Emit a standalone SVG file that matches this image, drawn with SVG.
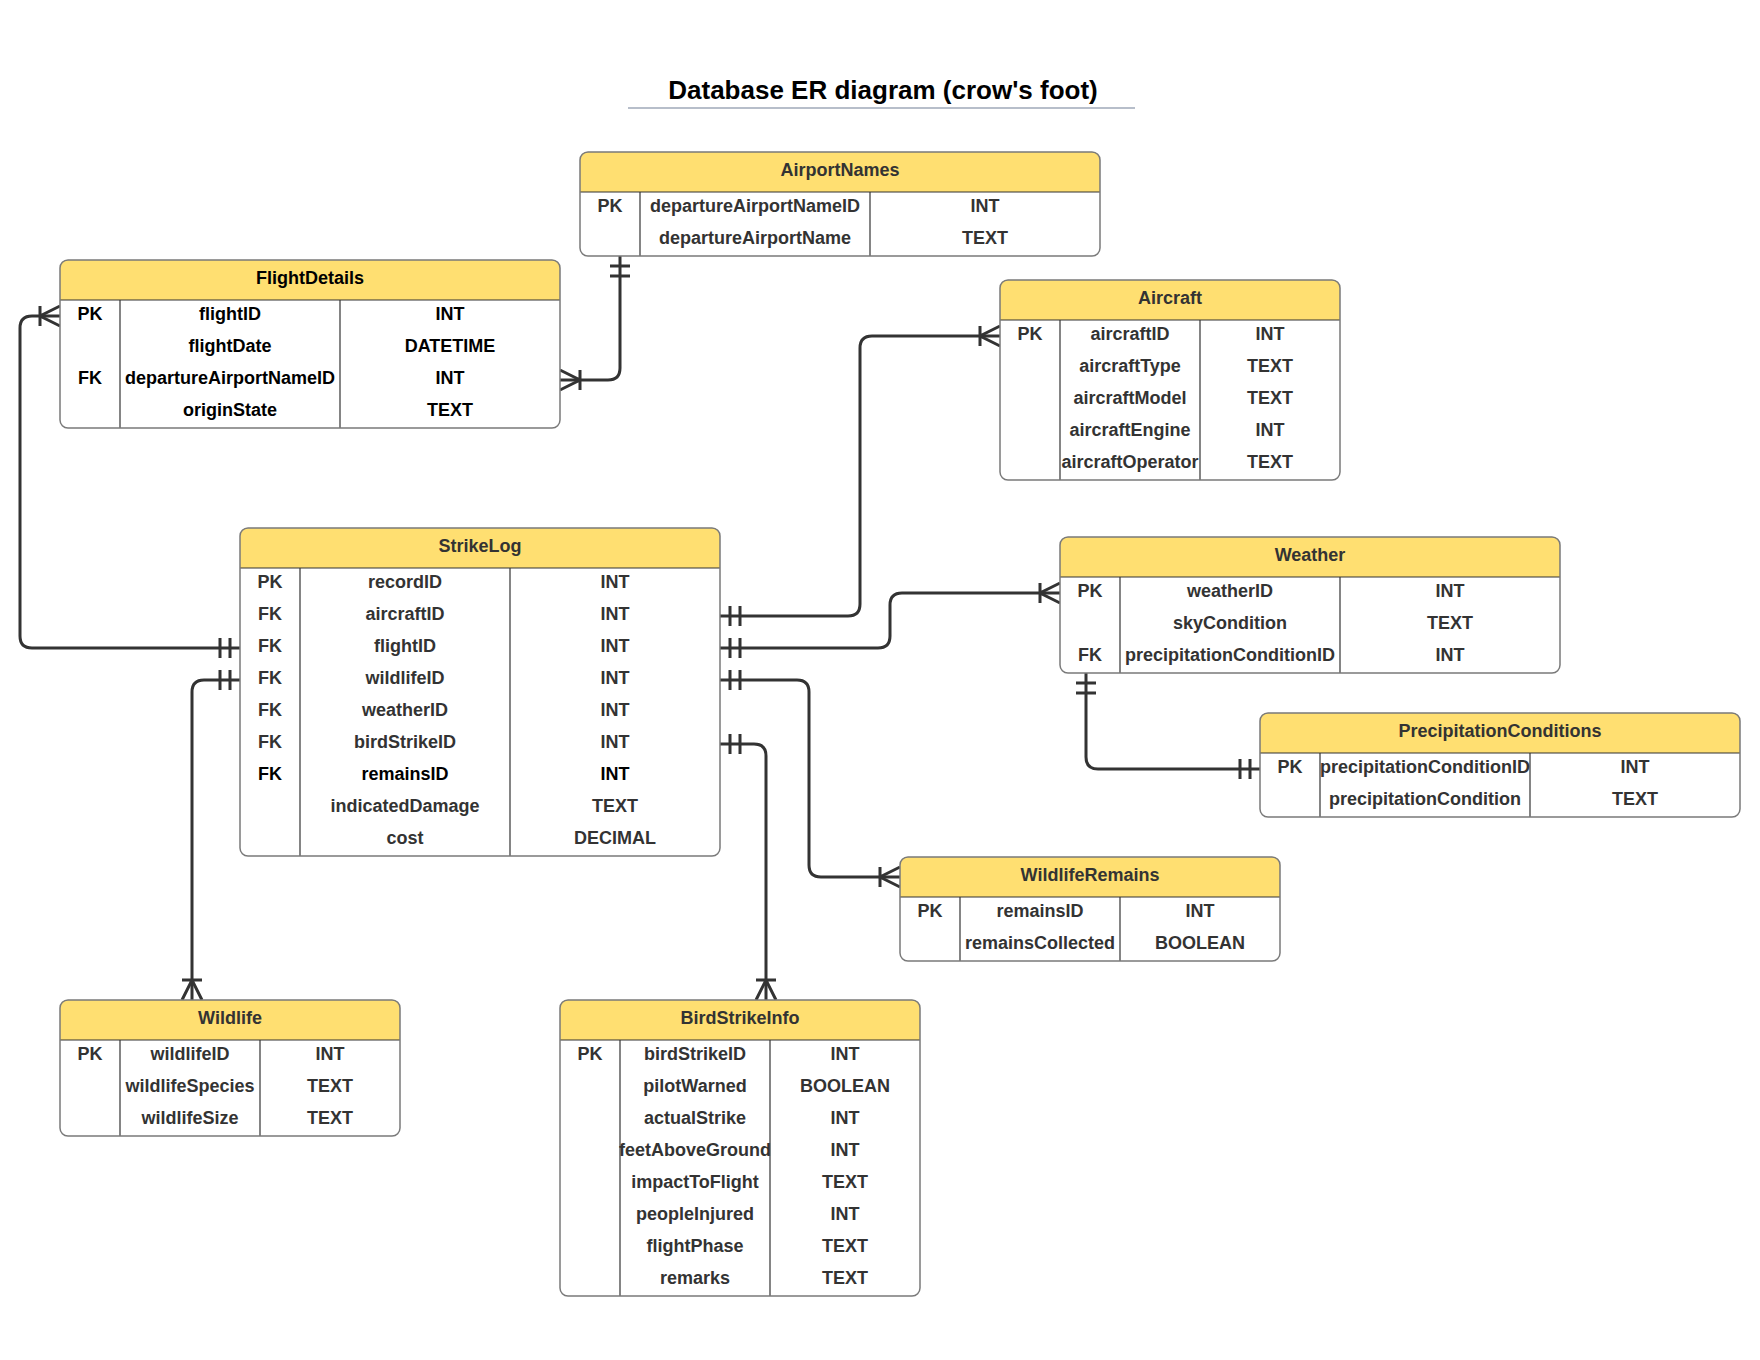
<svg xmlns="http://www.w3.org/2000/svg" width="1760" height="1360" viewBox="0 0 1760 1360">
<style>
.bg{fill:#fff}
.hd{fill:#FFDF71}
.ol{fill:none;stroke:#7a7a7a;stroke-width:1.5}
.dv{stroke:#333;stroke-width:1.2}
.t{font-family:"Liberation Sans",Arial,sans-serif;font-size:18px;font-weight:bold;fill:#333;text-anchor:middle}
.b{fill:#000}
.ttl{font-family:"Liberation Sans",Arial,sans-serif;font-size:26px;font-weight:bold;fill:#000;text-anchor:middle}
.c{fill:none;stroke:#333;stroke-width:3}
.mk{fill:none;stroke:#333;stroke-width:3}
</style>
<defs>
<marker id="many" markerUnits="userSpaceOnUse" viewBox="-30 -15 32 30" markerWidth="32" markerHeight="30" refX="0" refY="0" orient="auto-start-reverse">
<path class="mk" d="M-20,-10 V10 M0,-10 L-20,0 L0,10"/>
</marker>
<marker id="one" markerUnits="userSpaceOnUse" viewBox="-30 -15 32 30" markerWidth="32" markerHeight="30" refX="0" refY="0" orient="auto-start-reverse">
<path class="mk" d="M-10,-10 V10 M-20,-10 V10"/>
</marker>
</defs>
<rect width="1760" height="1360" fill="#fff"/>
<g id="title">
<text class="ttl" x="883" y="99">Database ER diagram (crow's foot)</text>
<line x1="628" y1="108" x2="1135" y2="108" stroke="#9fa8b8" stroke-width="1.5"/>
</g>

<g id="connectors">
<path class="c" d="M620,256 V368 Q620,380 608,380 H560" marker-start="url(#one)" marker-end="url(#many)"/>
<path class="c" d="M240,648 H32 Q20,648 20,636 V328 Q20,316 32,316 H60" marker-start="url(#one)" marker-end="url(#many)"/>
<path class="c" d="M240,680 H204 Q192,680 192,692 V1000" marker-start="url(#one)" marker-end="url(#many)"/>
<path class="c" d="M720,616 H848 Q860,616 860,604 V348 Q860,336 872,336 H1000" marker-start="url(#one)" marker-end="url(#many)"/>
<path class="c" d="M720,648 H878 Q890,648 890,636 V605 Q890,593 902,593 H1060" marker-start="url(#one)" marker-end="url(#many)"/>
<path class="c" d="M720,680 H797 Q809,680 809,692 V865 Q809,877 821,877 H900" marker-start="url(#one)" marker-end="url(#many)"/>
<path class="c" d="M720,744 H754 Q766,744 766,756 V1000" marker-start="url(#one)" marker-end="url(#many)"/>
<path class="c" d="M1086,673 V757 Q1086,769 1098,769 H1260" marker-start="url(#one)" marker-end="url(#one)"/>
</g>

<g id="AirportNames">
<rect class="bg" x="580" y="152" width="520" height="104" rx="8"/>
<path class="hd" d="M580,192 V160 Q580,152 588,152 H1092 Q1100,152 1100,160 V192 Z"/>
<line class="dv" x1="580" y1="192" x2="1100" y2="192"/>
<line class="dv" x1="640" y1="192" x2="640" y2="256"/>
<line class="dv" x1="870" y1="192" x2="870" y2="256"/>
<rect class="ol" x="580" y="152" width="520" height="104" rx="8"/>
<text class="t" x="840" y="176">AirportNames</text>
<text class="t" x="610" y="212">PK</text><text class="t" x="755" y="212">departureAirportNameID</text><text class="t" x="985" y="212">INT</text>
<text class="t" x="755" y="244">departureAirportName</text><text class="t" x="985" y="244">TEXT</text>
</g>

<g id="FlightDetails">
<rect class="bg" x="60" y="260" width="500" height="168" rx="8"/>
<path class="hd" d="M60,300 V268 Q60,260 68,260 H552 Q560,260 560,268 V300 Z"/>
<line class="dv" x1="60" y1="300" x2="560" y2="300"/>
<line class="dv" x1="120" y1="300" x2="120" y2="428"/>
<line class="dv" x1="340" y1="300" x2="340" y2="428"/>
<rect class="ol" x="60" y="260" width="500" height="168" rx="8"/>
<text class="t b" x="310" y="284">FlightDetails</text>
<text class="t b" x="90" y="320">PK</text><text class="t b" x="230" y="320">flightID</text><text class="t b" x="450" y="320">INT</text>
<text class="t b" x="230" y="352">flightDate</text><text class="t b" x="450" y="352">DATETIME</text>
<text class="t b" x="90" y="384">FK</text><text class="t b" x="230" y="384">departureAirportNameID</text><text class="t b" x="450" y="384">INT</text>
<text class="t b" x="230" y="416">originState</text><text class="t b" x="450" y="416">TEXT</text>
</g>

<g id="Aircraft">
<rect class="bg" x="1000" y="280" width="340" height="200" rx="8"/>
<path class="hd" d="M1000,320 V288 Q1000,280 1008,280 H1332 Q1340,280 1340,288 V320 Z"/>
<line class="dv" x1="1000" y1="320" x2="1340" y2="320"/>
<line class="dv" x1="1060" y1="320" x2="1060" y2="480"/>
<line class="dv" x1="1200" y1="320" x2="1200" y2="480"/>
<rect class="ol" x="1000" y="280" width="340" height="200" rx="8"/>
<text class="t" x="1170" y="304">Aircraft</text>
<text class="t" x="1030" y="340">PK</text><text class="t" x="1130" y="340">aircraftID</text><text class="t" x="1270" y="340">INT</text>
<text class="t" x="1130" y="372">aircraftType</text><text class="t" x="1270" y="372">TEXT</text>
<text class="t" x="1130" y="404">aircraftModel</text><text class="t" x="1270" y="404">TEXT</text>
<text class="t" x="1130" y="436">aircraftEngine</text><text class="t" x="1270" y="436">INT</text>
<text class="t" x="1130" y="468">aircraftOperator</text><text class="t" x="1270" y="468">TEXT</text>
</g>

<g id="StrikeLog">
<rect class="bg" x="240" y="528" width="480" height="328" rx="8"/>
<path class="hd" d="M240,568 V536 Q240,528 248,528 H712 Q720,528 720,536 V568 Z"/>
<line class="dv" x1="240" y1="568" x2="720" y2="568"/>
<line class="dv" x1="300" y1="568" x2="300" y2="856"/>
<line class="dv" x1="510" y1="568" x2="510" y2="856"/>
<rect class="ol" x="240" y="528" width="480" height="328" rx="8"/>
<text class="t" x="480" y="552">StrikeLog</text>
<text class="t" x="270" y="588">PK</text><text class="t" x="405" y="588">recordID</text><text class="t" x="615" y="588">INT</text>
<text class="t" x="270" y="620">FK</text><text class="t" x="405" y="620">aircraftID</text><text class="t" x="615" y="620">INT</text>
<text class="t" x="270" y="652">FK</text><text class="t" x="405" y="652">flightID</text><text class="t" x="615" y="652">INT</text>
<text class="t" x="270" y="684">FK</text><text class="t" x="405" y="684">wildlifeID</text><text class="t" x="615" y="684">INT</text>
<text class="t" x="270" y="716">FK</text><text class="t" x="405" y="716">weatherID</text><text class="t" x="615" y="716">INT</text>
<text class="t" x="270" y="748">FK</text><text class="t" x="405" y="748">birdStrikeID</text><text class="t" x="615" y="748">INT</text>
<text class="t b" x="270" y="780">FK</text><text class="t b" x="405" y="780">remainsID</text><text class="t b" x="615" y="780">INT</text>
<text class="t" x="405" y="812">indicatedDamage</text><text class="t" x="615" y="812">TEXT</text>
<text class="t" x="405" y="844">cost</text><text class="t" x="615" y="844">DECIMAL</text>
</g>

<g id="Weather">
<rect class="bg" x="1060" y="537" width="500" height="136" rx="8"/>
<path class="hd" d="M1060,577 V545 Q1060,537 1068,537 H1552 Q1560,537 1560,545 V577 Z"/>
<line class="dv" x1="1060" y1="577" x2="1560" y2="577"/>
<line class="dv" x1="1120" y1="577" x2="1120" y2="673"/>
<line class="dv" x1="1340" y1="577" x2="1340" y2="673"/>
<rect class="ol" x="1060" y="537" width="500" height="136" rx="8"/>
<text class="t" x="1310" y="561">Weather</text>
<text class="t" x="1090" y="597">PK</text><text class="t" x="1230" y="597">weatherID</text><text class="t" x="1450" y="597">INT</text>
<text class="t" x="1230" y="629">skyCondition</text><text class="t" x="1450" y="629">TEXT</text>
<text class="t" x="1090" y="661">FK</text><text class="t" x="1230" y="661">precipitationConditionID</text><text class="t" x="1450" y="661">INT</text>
</g>

<g id="PrecipitationConditions">
<rect class="bg" x="1260" y="713" width="480" height="104" rx="8"/>
<path class="hd" d="M1260,753 V721 Q1260,713 1268,713 H1732 Q1740,713 1740,721 V753 Z"/>
<line class="dv" x1="1260" y1="753" x2="1740" y2="753"/>
<line class="dv" x1="1320" y1="753" x2="1320" y2="817"/>
<line class="dv" x1="1530" y1="753" x2="1530" y2="817"/>
<rect class="ol" x="1260" y="713" width="480" height="104" rx="8"/>
<text class="t" x="1500" y="737">PrecipitationConditions</text>
<text class="t" x="1290" y="773">PK</text><text class="t" x="1425" y="773">precipitationConditionID</text><text class="t" x="1635" y="773">INT</text>
<text class="t" x="1425" y="805">precipitationCondition</text><text class="t" x="1635" y="805">TEXT</text>
</g>

<g id="WildlifeRemains">
<rect class="bg" x="900" y="857" width="380" height="104" rx="8"/>
<path class="hd" d="M900,897 V865 Q900,857 908,857 H1272 Q1280,857 1280,865 V897 Z"/>
<line class="dv" x1="900" y1="897" x2="1280" y2="897"/>
<line class="dv" x1="960" y1="897" x2="960" y2="961"/>
<line class="dv" x1="1120" y1="897" x2="1120" y2="961"/>
<rect class="ol" x="900" y="857" width="380" height="104" rx="8"/>
<text class="t" x="1090" y="881">WildlifeRemains</text>
<text class="t" x="930" y="917">PK</text><text class="t" x="1040" y="917">remainsID</text><text class="t" x="1200" y="917">INT</text>
<text class="t" x="1040" y="949">remainsCollected</text><text class="t" x="1200" y="949">BOOLEAN</text>
</g>

<g id="Wildlife">
<rect class="bg" x="60" y="1000" width="340" height="136" rx="8"/>
<path class="hd" d="M60,1040 V1008 Q60,1000 68,1000 H392 Q400,1000 400,1008 V1040 Z"/>
<line class="dv" x1="60" y1="1040" x2="400" y2="1040"/>
<line class="dv" x1="120" y1="1040" x2="120" y2="1136"/>
<line class="dv" x1="260" y1="1040" x2="260" y2="1136"/>
<rect class="ol" x="60" y="1000" width="340" height="136" rx="8"/>
<text class="t" x="230" y="1024">Wildlife</text>
<text class="t" x="90" y="1060">PK</text><text class="t" x="190" y="1060">wildlifeID</text><text class="t" x="330" y="1060">INT</text>
<text class="t" x="190" y="1092">wildlifeSpecies</text><text class="t" x="330" y="1092">TEXT</text>
<text class="t" x="190" y="1124">wildlifeSize</text><text class="t" x="330" y="1124">TEXT</text>
</g>

<g id="BirdStrikeInfo">
<rect class="bg" x="560" y="1000" width="360" height="296" rx="8"/>
<path class="hd" d="M560,1040 V1008 Q560,1000 568,1000 H912 Q920,1000 920,1008 V1040 Z"/>
<line class="dv" x1="560" y1="1040" x2="920" y2="1040"/>
<line class="dv" x1="620" y1="1040" x2="620" y2="1296"/>
<line class="dv" x1="770" y1="1040" x2="770" y2="1296"/>
<rect class="ol" x="560" y="1000" width="360" height="296" rx="8"/>
<text class="t" x="740" y="1024">BirdStrikeInfo</text>
<text class="t" x="590" y="1060">PK</text><text class="t" x="695" y="1060">birdStrikeID</text><text class="t" x="845" y="1060">INT</text>
<text class="t" x="695" y="1092">pilotWarned</text><text class="t" x="845" y="1092">BOOLEAN</text>
<text class="t" x="695" y="1124">actualStrike</text><text class="t" x="845" y="1124">INT</text>
<text class="t" x="695" y="1156">feetAboveGround</text><text class="t" x="845" y="1156">INT</text>
<text class="t" x="695" y="1188">impactToFlight</text><text class="t" x="845" y="1188">TEXT</text>
<text class="t" x="695" y="1220">peopleInjured</text><text class="t" x="845" y="1220">INT</text>
<text class="t" x="695" y="1252">flightPhase</text><text class="t" x="845" y="1252">TEXT</text>
<text class="t" x="695" y="1284">remarks</text><text class="t" x="845" y="1284">TEXT</text>
</g>
</svg>
